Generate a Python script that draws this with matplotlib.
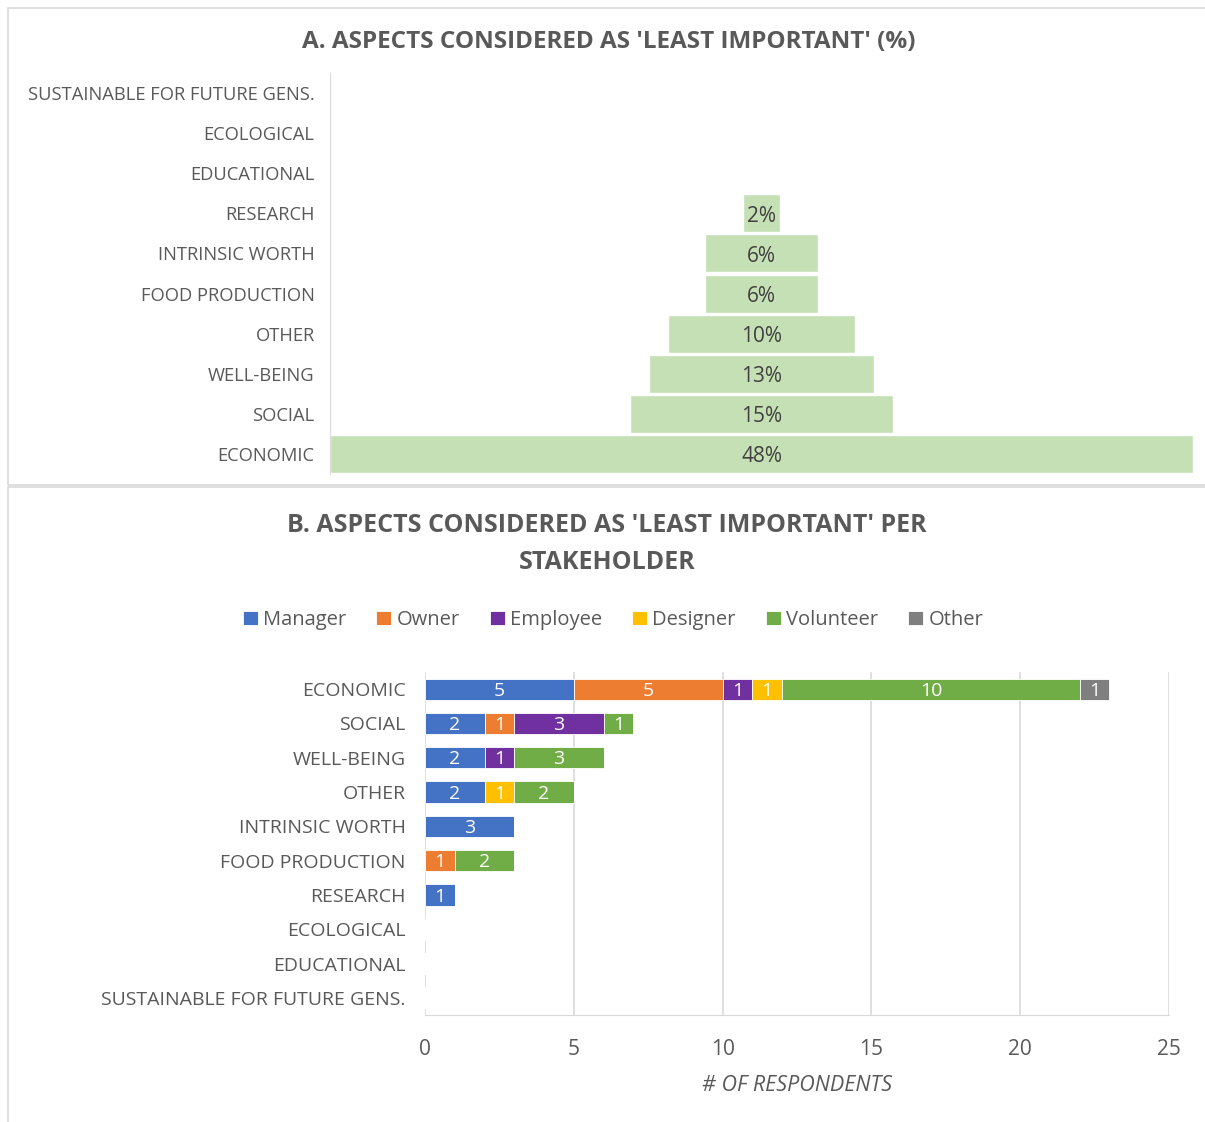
import numpy as np
import matplotlib
matplotlib.use("Agg")
import matplotlib.pyplot as plt
from matplotlib.patches import Rectangle

plt.rcParams['font.family'] = ['Open Sans', 'DejaVu Sans']

# panel A data (first item is the bottom row)
aspects_a = ['ECONOMIC', 'SOCIAL', 'WELL-BEING', 'OTHER', 'FOOD PRODUCTION',
             'INTRINSIC WORTH', 'RESEARCH', 'EDUCATIONAL', 'ECOLOGICAL',
             'SUSTAINABLE FOR FUTURE GENS.']
pct_a = [47.9, 14.6, 12.5, 10.4, 6.25, 6.25, 2.1, 0, 0, 0]
pct_labels = ['48%', '15%', '13%', '10%', '6%', '6%', '2%', '', '', '']

# panel B data (first item is the top row)
aspects_b = ['ECONOMIC', 'SOCIAL', 'WELL-BEING', 'OTHER', 'INTRINSIC WORTH',
             'FOOD PRODUCTION', 'RESEARCH', 'ECOLOGICAL', 'EDUCATIONAL',
             'SUSTAINABLE FOR FUTURE GENS.']
stakeholders = ['Manager', 'Owner', 'Employee', 'Designer', 'Volunteer', 'Other']
manager   = [5, 2, 2, 2, 3, 0, 1, 0, 0, 0]
owner     = [5, 1, 0, 0, 0, 1, 0, 0, 0, 0]
employee  = [1, 3, 1, 0, 0, 0, 0, 0, 0, 0]
designer  = [1, 0, 0, 1, 0, 0, 0, 0, 0, 0]
volunteer = [10, 1, 3, 2, 0, 2, 0, 0, 0, 0]
other     = [1, 0, 0, 0, 0, 0, 0, 0, 0, 0]
colors = ['#4472C4', '#ED7D31', '#7030A0', '#FFC000', '#70AD47', '#7F7F7F']

txt = '#595959'
grid = '#D9D9D9'
W, H = 1205, 1122
fig = plt.figure(figsize=(W / 100, H / 100), dpi=100)

# panel borders
fig.patches.append(Rectangle((8 / W, 1 - 485 / H), 1.2, 477 / H, transform=fig.transFigure,
                             fill=False, edgecolor=grid, lw=1.2))
fig.patches.append(Rectangle((8 / W, -0.1), 1.2, 0.1 + 1 - 487 / H, transform=fig.transFigure,
                             fill=False, edgecolor=grid, lw=1.2))

# ---------- panel A ----------
axA = fig.add_axes([330 / W, 1 - 474 / H, 863 / W, 401 / H])
y = np.arange(len(aspects_a))
vals = np.array(pct_a)
axA.barh(y, vals, left=-vals / 2, height=0.95, color='#C5E0B4', edgecolor='white', lw=1)
for yi, v, lab in zip(y, vals, pct_labels):
    if v > 0:
        axA.text(0, yi - 0.07, lab, ha='center', va='center', fontsize=15, color='#404040')
axA.set_xlim(-vals.max() / 2, vals.max() / 2)
axA.set_ylim(-0.5, len(aspects_a) - 0.5)
axA.set_yticks(y)
axA.set_yticklabels(aspects_a, fontsize=13.2, color=txt)
axA.tick_params(axis='y', length=0, pad=11)
axA.set_xticks([])
for s in ['top', 'right', 'bottom']:
    axA.spines[s].set_visible(False)
axA.spines['left'].set_color(grid)
fig.text(609 / W, 1 - 42 / H, "A. ASPECTS CONSIDERED AS 'LEAST IMPORTANT' (%)",
         ha='center', va='center', fontsize=17.5, fontweight='bold', color=txt)

# ---------- panel B ----------
axB = fig.add_axes([425 / W, 1 - 1015 / H, 744 / W, 343 / H])
series = [manager, owner, employee, designer, volunteer, other]
yb = np.arange(len(aspects_b))
left = np.zeros(len(aspects_b))
for name, vals_s, c in zip(stakeholders, series, colors):
    vals_s = np.array(vals_s, dtype=float)
    axB.barh(yb, vals_s, left=left, height=0.62, color=c, label=name,
             edgecolor='white', lw=0.6, zorder=3)
    for yi, l, v in zip(yb, left, vals_s):
        if v > 0:
            axB.text(l + v / 2, yi + 0.05, str(int(v)), ha='center', va='center',
                     fontsize=14, color='white', zorder=4)
    left += vals_s
axB.set_xlim(0, 25)
axB.set_ylim(len(aspects_b) - 0.5, -0.5)
axB.set_xticks(range(0, 26, 5))
axB.set_yticks(yb)
axB.set_yticklabels(aspects_b, fontsize=14, color=txt)
axB.tick_params(axis='y', length=0, pad=14)
axB.tick_params(axis='x', length=0, pad=17, labelsize=15, labelcolor=txt)
axB.grid(axis='x', color=grid, lw=1.2, zorder=0)
for s in ['top', 'right', 'left']:
    axB.spines[s].set_visible(False)
axB.spines['bottom'].set_color(grid)
axB.set_xlabel('# OF RESPONDENTS', fontsize=15.5, color=txt, style='italic', labelpad=11)

fig.text(607 / W, 1 - 544 / H, "B. ASPECTS CONSIDERED AS 'LEAST IMPORTANT' PER\nSTAKEHOLDER",
         ha='center', va='center', fontsize=18, fontweight='bold', color=txt, linespacing=1.6)
fig.legend(*axB.get_legend_handles_labels(), loc='center', bbox_to_anchor=(613 / W, 1 - 620 / H),
           ncol=6, frameon=False, fontsize=14.5, labelcolor=txt, handlelength=0.75,
           handleheight=0.75, handletextpad=0.25, columnspacing=1.5)

fig.savefig('out.png', dpi=100, facecolor='white')
